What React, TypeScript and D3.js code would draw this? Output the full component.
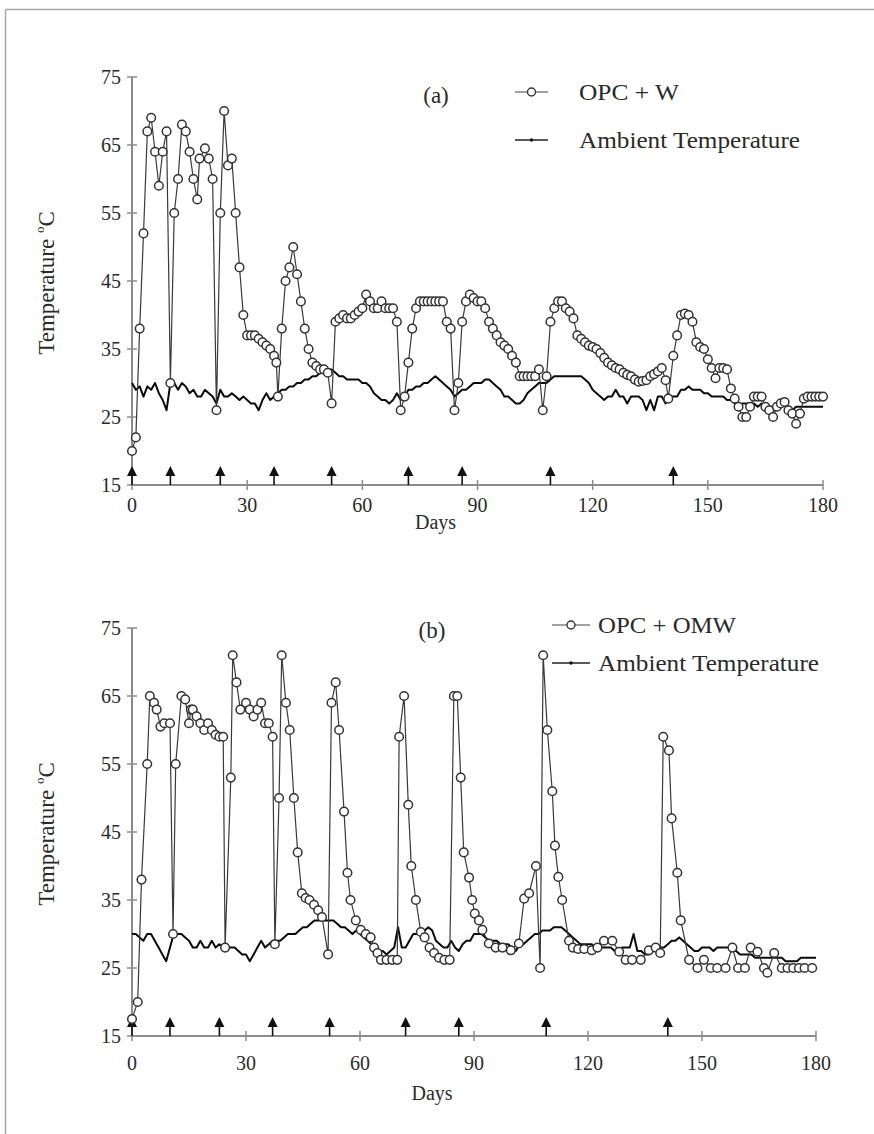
import React from 'react';
import * as d3 from 'd3';

const DAY_TICKS = [0, 30, 60, 90, 120, 150, 180];
const TEMP_TICKS = [15, 25, 35, 45, 55, 65, 75];
const WATERING_DAYS = [0, 10, 23, 37, 52, 72, 86, 109, 141];

// Panel (a): OPC + W  [day, temperature]
const opcW: [number, number][] = [
  [0, 20], [1, 22], [2, 38], [3, 52], [4, 67], [5, 69], [6, 64], [7, 59], [8, 64], [9, 67],
  [10, 30], [11, 55], [12, 60], [13, 68], [14, 67], [15, 64], [16, 60], [17, 57], [17.6, 63],
  [19, 64.5], [20, 63], [21, 60], [22, 26], [23, 55], [24, 70], [25, 62], [26, 63], [27, 55],
  [28, 47], [29, 40], [30, 37], [31, 37], [32, 37], [33, 36.5], [34, 36], [35, 35.5], [36, 35],
  [37, 34], [37.6, 33], [38, 28], [39, 38], [40, 45], [41, 47], [42, 50], [43, 46], [44, 42],
  [45, 38], [46, 35], [47, 33], [48, 32.5], [49, 32], [50, 32], [51, 31.5], [52, 27], [53, 39],
  [54, 39.5], [55, 40], [56, 39.5], [57, 39.5], [58, 40], [59, 40.5], [60, 41], [61, 43], [62, 42],
  [63, 41], [64, 41], [65, 42], [66, 41], [67, 41], [68, 41], [69, 39], [70, 26], [71, 28], [72, 33],
  [73, 38], [74, 41], [75, 42], [76, 42], [77, 42], [78, 42], [79, 42], [80, 42], [81, 42], [82, 39],
  [83, 38], [84, 26], [85, 30], [86, 39], [87, 42], [88, 43], [89, 42.5], [90, 42], [91, 42], [92, 41],
  [93, 39], [94, 38], [95, 37], [96, 36], [97, 35.5], [98, 35], [99, 34], [100, 33], [101, 31],
  [102, 31], [103, 31], [104, 31], [105, 31], [106, 32], [107, 26], [108, 31], [109, 39], [110, 41],
  [111, 42], [112, 42], [113, 41], [114, 40.5], [115, 39.5], [116, 37], [117, 36.5], [118, 36],
  [119, 35.5], [120, 35.3], [121, 35], [122, 34.4], [123, 33.7], [124, 33], [125, 32.6], [126, 32.2],
  [127, 32], [128, 31.5], [129, 31.2], [130, 31], [131, 30.5], [132, 30.2], [133, 30.3], [134, 30.4],
  [135, 31], [136, 31.3], [137, 31.7], [138, 32.2], [139, 30.4], [139.7, 27.7], [141, 34], [142, 37],
  [143, 40], [144, 40.2], [145, 40], [146, 39], [147, 36], [148, 35.3], [149, 35], [150, 33.5],
  [151, 32.2], [152, 30.7], [153, 32.2], [154, 32.2], [155, 32], [156, 29.2], [157, 27.7], [158, 26.5],
  [159, 25], [160, 25], [161, 26.5], [162, 28], [163, 28], [164, 28], [165, 26.5], [166, 26], [167, 25],
  [168, 26.5], [169, 27], [170, 27.2], [171, 26], [172, 25.5], [173, 24], [174, 25.5], [175, 27.7],
  [176, 28], [177, 28], [178, 28], [179, 28], [180, 28],
];

// Panel (a): ambient temperature, one value per day from day 0 to day 180
const ambientA: number[] = [
  30, 29, 29.5, 28, 29.5, 29, 30, 28.5, 27.5, 26,
  30, 30, 29, 30, 29.5, 28.5, 29, 28, 28, 29,
  28.5, 28, 27, 29, 28, 28, 28.5, 28, 27.5, 28,
  27.5, 27, 27, 26, 27.5, 28.5, 27.5, 28, 28.5, 29,
  29, 29.5, 29.5, 30, 30, 30.5, 30.5, 31, 31, 31.5,
  32, 32, 32, 31.5, 31, 31, 30.5, 30.5, 30.5, 30.5,
  30, 30, 29.5, 28.5, 28, 27.5, 27.5, 27, 27.5, 28.5,
  27.5, 28, 29, 29, 29.5, 29.5, 30, 30, 30.5, 31,
  30.5, 30, 29.5, 29, 28, 28.5, 29, 29, 29.5, 30,
  30, 30, 30.5, 30.5, 30, 29.5, 29, 28, 28, 27.5,
  27, 27, 27.5, 28.5, 29, 29.5, 30, 30, 30, 30.5,
  31, 31, 31, 31, 31, 31, 31, 31, 30.5, 30,
  29, 28.5, 28, 27.5, 28, 28, 29, 28, 28, 27,
  28, 28, 28, 27.5, 26, 27.5, 26, 28, 28, 27,
  28, 28, 28, 29, 29, 29.5, 29, 29, 29, 28.5,
  28.5, 28, 28, 28, 28, 27.5, 27.5, 27, 26.5, 27,
  27, 27, 27, 26.5, 27, 26.5, 26.5, 26.5, 26, 26.5,
  27, 26.5, 26, 26.5, 26.5, 26.5, 26.5, 26.5, 26.5, 26.5,
  26.5,
];

// Panel (b): OPC + OMW  [day, temperature]
const opcOMW: [number, number][] = [
  [0, 17.5], [1.5, 20], [2.5, 38], [4, 55], [4.7, 65], [5.8, 64], [6.5, 63], [7.5, 60.5], [8.5, 61],
  [10, 61], [10.8, 30], [11.5, 55], [13, 65], [14, 64.5], [15, 61], [15.5, 63], [16, 63], [17, 62],
  [18, 61], [19, 60], [20, 61], [21, 60], [22, 59.3], [23, 59], [24, 59], [24.5, 28], [26, 53],
  [26.5, 71], [27.5, 67], [28.5, 63], [30, 64], [31, 63], [32, 62], [33, 63], [34, 64], [35, 61],
  [36, 61], [37, 59], [37.6, 28.5], [38.7, 50], [39.4, 71], [40.5, 64], [41.5, 60], [42.6, 50],
  [43.6, 42], [44.7, 36], [45.7, 35.3], [46.7, 35], [47.9, 34.3], [49, 33.5], [50, 32.5], [51.6, 27],
  [52.5, 64], [53.6, 67], [54.5, 60], [55.8, 48], [56.7, 39], [57.5, 35], [58.9, 32], [60.2, 30.6],
  [61.5, 30], [62.8, 29.5], [63.7, 28], [64.6, 27.2], [65.5, 26.2], [67, 26.2], [68.5, 26.2],
  [69.8, 26.2], [70.3, 59], [71.6, 65], [72.7, 49], [73.5, 40], [74.7, 35], [76, 30.3], [77, 29.5],
  [78.3, 28], [79.5, 27.2], [80.8, 26.5], [82.2, 26.2], [83.6, 26.2], [84.7, 65], [85.6, 65],
  [86.5, 53], [87.3, 42], [88.7, 38.3], [89.5, 35], [90.2, 33], [91.3, 32], [92.2, 30.6], [93.9, 28.6],
  [95.7, 28], [97.5, 28], [99.7, 27.6], [101.8, 28.6], [103.2, 35.2], [104.5, 36], [106.3, 40],
  [107.4, 25], [108.2, 71], [109.3, 60], [110.6, 51], [111.3, 43], [112.2, 38.4], [113.2, 35],
  [115, 29], [116, 28], [117.4, 27.8], [119, 27.8], [121, 27.6], [122.5, 28], [124.2, 29], [126.4, 29],
  [128.2, 27.4], [129.9, 26.2], [131.6, 26.2], [133.9, 26.2], [136, 27.6], [137.8, 28], [139, 27.2],
  [139.8, 59], [141.3, 57], [142, 47], [143.5, 39], [144.4, 32], [146.6, 26.2], [148.8, 25],
  [150.5, 26.2], [152.3, 25], [154, 25], [156.2, 25], [158, 28], [159.5, 25], [161.3, 25], [162.8, 28],
  [164.6, 27.4], [166.3, 25], [167.2, 24.3], [169, 27.2], [171, 25], [172.5, 25], [174, 25],
  [175.5, 25], [177, 25], [179, 25],
];

// Panel (b): ambient temperature, one value per day from day 0 to day 180
const ambientB: number[] = [
  30, 30, 29.5, 29, 30, 30, 29, 28, 27, 26,
  28, 30, 30, 30, 29.5, 29, 28, 28, 29, 28,
  28, 29, 28, 28.5, 28, 28, 28, 28, 27.5, 27,
  27, 26, 27, 28, 29, 28, 28.5, 29, 29, 29,
  29.5, 30, 30, 30, 30.5, 31, 31, 31.5, 32, 32,
  32, 32, 32, 32, 31.5, 31, 31, 30.5, 30, 30.5,
  30, 29.5, 29, 28.5, 28, 27.5, 27.5, 27, 27.5, 28,
  31, 28, 28, 29, 30, 30, 30, 30.5, 31, 30.5,
  29, 28.5, 28, 28, 29, 28, 27.5, 28.5, 29, 29,
  30, 30, 30, 29.5, 29, 29, 29, 28.5, 28.5, 28.5,
  28, 27.5, 28.5, 28.5, 29, 29.5, 30, 30, 30.5, 30.5,
  30.5, 31, 31, 31, 30.5, 30, 29.5, 29, 28.5, 28.5,
  28.5, 28.5, 28, 28, 28, 28, 28, 27.5, 27.5, 28,
  28, 28, 30, 27.5, 27.5, 27, 27, 27.5, 27.5, 28,
  28, 28.5, 29, 29, 29.5, 29, 28.5, 28, 27.5, 27.5,
  28, 28, 28, 27.5, 28, 28, 28, 28, 27.5, 27.5,
  27, 27, 27, 27, 26.5, 26.5, 26.5, 26.5, 26.5, 26.5,
  26.5, 26.5, 26, 26, 26, 26, 26.5, 26.5, 26.5, 26.5,
  26.5,
];

const FONT = '"Liberation Serif", "DejaVu Serif", serif';
const TEXT = '#2a2a2a';
const AXIS = '#8c8c8c';

interface PanelProps {
  label: string;
  seriesName: string;
  seriesNameWidth: number;
  series: [number, number][];
  ambient: number[];
  x0: number;
  x1: number;
  yTop: number;
  yBottom: number;
  tickLabelDy: number;
  daysDy: number;
  legend: { lineX0: number; lineX1: number; textX: number; y1: number; y2: number; labelX: number; labelY: number };
}

function Panel(p: PanelProps) {
  const x = d3.scaleLinear().domain([0, 180]).range([p.x0, p.x1]);
  const y = d3.scaleLinear().domain([15, 75]).range([p.yBottom, p.yTop]);
  const line = d3.line<[number, number]>().x(d => x(d[0])).y(d => y(d[1]));
  const ambPts: [number, number][] = p.ambient.map((v, i) => [i, v]);
  const lg = p.legend;
  return (
    <g>
      {/* axes */}
      <line x1={p.x0} x2={p.x0} y1={p.yTop} y2={p.yBottom} stroke={AXIS} strokeWidth={2} />
      <line x1={p.x0} x2={p.x1} y1={p.yBottom} y2={p.yBottom} stroke={AXIS} strokeWidth={2} />
      {TEMP_TICKS.map(t => (
        <g key={'yt' + t}>
          <line x1={p.x0 - 5} x2={p.x0 + 5} y1={y(t)} y2={y(t)} stroke={AXIS} strokeWidth={1.5} />
          <text x={p.x0 - 11} y={y(t)} dy="0.35em" textAnchor="end" fontFamily={FONT} fontSize={20} fill={TEXT}>{t}</text>
        </g>
      ))}
      {DAY_TICKS.map(t => (
        <g key={'xt' + t}>
          <line x1={x(t)} x2={x(t)} y1={p.yBottom - 5} y2={p.yBottom + 5} stroke={AXIS} strokeWidth={1.5} />
          <text x={x(t)} y={p.yBottom + p.tickLabelDy} dy="0.35em" textAnchor="middle" fontFamily={FONT} fontSize={20} fill={TEXT}>{t}</text>
        </g>
      ))}
      <text x={(p.x0 + p.x1) / 2 - 42} y={p.yBottom + p.daysDy} dy="0.35em" textAnchor="middle" fontFamily={FONT} fontSize={20} fill={TEXT}>Days</text>
      <text transform={`translate(54,${(p.yTop + p.yBottom) / 2 + 2}) rotate(-90)`} textAnchor="middle" fontFamily={FONT} fontSize={23} fill={TEXT}>
        Temperature <tspan fontSize={13} dy={-10}>o</tspan><tspan dy={10}>C</tspan>
      </text>

      {/* watering arrows */}
      {WATERING_DAYS.map(d => (
        <g key={'ar' + d}>
          <line x1={x(d)} x2={x(d)} y1={p.yBottom - 12} y2={p.yBottom} stroke="#111" strokeWidth={1.6} />
          <path d={`M${x(d)},${p.yBottom - 19} L${x(d) - 5},${p.yBottom - 9} L${x(d) + 5},${p.yBottom - 9} Z`} fill="#111" />
        </g>
      ))}

      {/* ambient */}
      <path d={line(ambPts) || ''} fill="none" stroke="#0a0a0a" strokeWidth={2} strokeLinejoin="round" />

      {/* series */}
      <path d={line(p.series) || ''} fill="none" stroke="#3a3a3a" strokeWidth={1.2} />
      {p.series.map((d, i) => (
        <circle key={'c' + i} cx={x(d[0])} cy={y(d[1])} r={4.3} fill="#fff" stroke="#333" strokeWidth={1.5} />
      ))}

      {/* panel label and legend */}
      <text x={lg.labelX} y={lg.labelY} dy="0.35em" textAnchor="middle" fontFamily={FONT} fontSize={23} fill={TEXT}>{p.label}</text>
      <line x1={lg.lineX0} x2={lg.lineX1} y1={lg.y1} y2={lg.y1} stroke="#444" strokeWidth={1.2} />
      <circle cx={(lg.lineX0 + lg.lineX1) / 2} cy={lg.y1} r={4} fill="#fff" stroke="#333" strokeWidth={1.4} />
      <text x={lg.textX} y={lg.y1} dy="0.35em" fontFamily={FONT} fontSize={23} fill={TEXT}
        textLength={p.seriesNameWidth} lengthAdjust="spacingAndGlyphs">{p.seriesName}</text>
      <line x1={lg.lineX0} x2={lg.lineX1} y1={lg.y2} y2={lg.y2} stroke="#222" strokeWidth={1.5} />
      <circle cx={(lg.lineX0 + lg.lineX1) / 2} cy={lg.y2} r={1.7} fill="#111" />
      <text x={lg.textX} y={lg.y2} dy="0.35em" fontFamily={FONT} fontSize={23} fill={TEXT}
        textLength={221} lengthAdjust="spacingAndGlyphs">Ambient Temperature</text>
    </g>
  );
}

export default function App() {
  return (
    <svg width={874} height={1134} style={{ position: 'absolute', left: 0, top: 0, background: '#fff' }}>
      <rect x={0} y={0} width={874} height={1134} fill="#fff" />
      <line x1={5.5} x2={874} y1={9.5} y2={9.5} stroke="#a8a8a8" strokeWidth={1.5} />
      <line x1={5.5} x2={5.5} y1={9.5} y2={1134} stroke="#a8a8a8" strokeWidth={1.5} />
      <Panel
        label="(a)"
        seriesName="OPC + W"
        seriesNameWidth={100}
        series={opcW}
        ambient={ambientA}
        x0={132}
        x1={823}
        yTop={77}
        yBottom={485}
        tickLabelDy={20}
        daysDy={37}
        legend={{ lineX0: 515, lineX1: 548, textX: 579, y1: 92, y2: 140, labelX: 436, labelY: 95 }}
      />
      <Panel
        label="(b)"
        seriesName="OPC + OMW"
        seriesNameWidth={138}
        series={opcOMW}
        ambient={ambientB}
        x0={132}
        x1={816}
        yTop={628}
        yBottom={1036}
        tickLabelDy={27}
        daysDy={57}
        legend={{ lineX0: 552, lineX1: 590, textX: 598, y1: 625, y2: 663, labelX: 432, labelY: 630 }}
      />
    </svg>
  );
}
